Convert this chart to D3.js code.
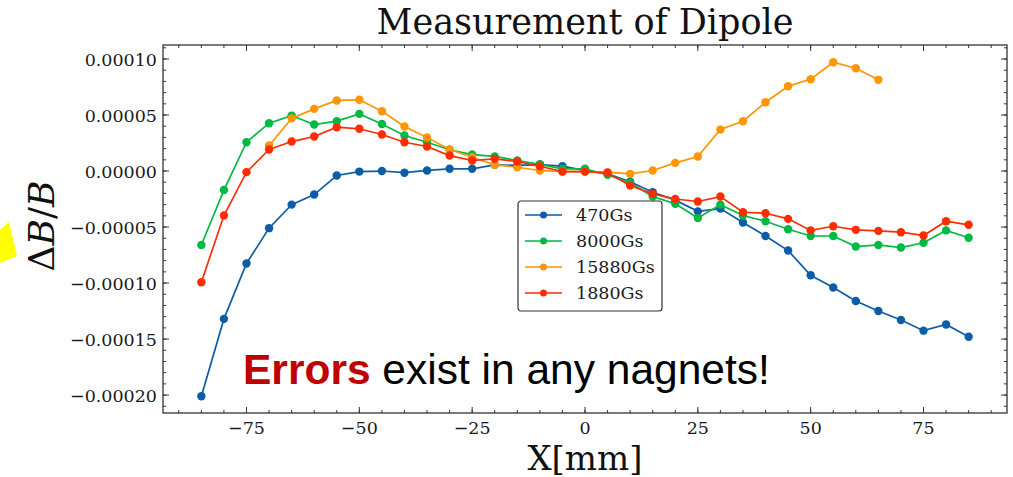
<!DOCTYPE html>
<html>
<head>
<meta charset="utf-8">
<script src="https://cdn.jsdelivr.net/npm/d3@7"></script>
<style>
  body { margin: 0; background: #fff; }
  svg { font-family: "DejaVu Serif", serif; }
</style>
</head>
<body>
<svg id="chart" width="1013" height="477"></svg>
<script>
var xs = [-85, -80, -75, -70, -65, -60, -55, -50, -45, -40, -35, -30, -25, -20, -15, -10, -5, 0,
          5, 10, 15, 20, 25, 30, 35, 40, 45, 50, 55, 60, 65, 70, 75, 80, 85];

// values in units of 1e-5
var blue470 = [-20.1, -13.2, -8.25, -5.1, -3.0, -2.1, -0.4, -0.05, 0.0, -0.15, 0.05, 0.2, 0.2, 0.55, 0.5,
               0.58, 0.43, 0.05, -0.25, -0.95, -1.9, -2.6, -3.6, -3.35, -4.6, -5.8, -7.1, -9.3, -10.4,
               -11.6, -12.5, -13.3, -14.25, -13.7, -14.8];
var green8000 = [-6.6, -1.7, 2.57, 4.27, 4.95, 4.15, 4.45, 5.1, 4.2, 3.17, 2.57, 1.9, 1.47, 1.3, 0.94,
                 0.6, 0.2, 0.2, -0.34, -1.05, -2.28, -2.93, -4.2, -3.0, -3.97, -4.48, -5.2, -5.8, -5.8,
                 -6.74, -6.6, -6.83, -6.4, -5.3, -5.96];
var orangeX = xs.slice(3, 31);
var orange15880 = [2.28, 4.7, 5.55, 6.3, 6.36, 5.34, 3.97, 3.0, 1.92, 1.23, 0.55, 0.34, 0.05, -0.05,
                   -0.05, -0.1, -0.25, 0.05, 0.73, 1.3, 3.7, 4.45, 6.14, 7.57, 8.2, 9.71, 9.18, 8.14];
var red1880 = [-9.93, -3.97, -0.1, 1.92, 2.63, 3.08, 3.91, 3.77, 3.26, 2.57, 2.19, 1.38, 0.94, 1.09, 0.85,
               0.43, -0.05, -0.05, -0.16, -1.3, -2.04, -2.5, -2.72, -2.28, -3.68, -3.77, -4.27, -5.3,
               -4.93, -5.25, -5.34, -5.46, -5.76, -4.48, -4.8];

var seriesNames = ['470Gs', '8000Gs', '15880Gs', '1880Gs'];
var seriesColors = ['#0C5DA5', '#00B945', '#FF9500', '#FF2C00'];

var yTicks = [-0.0002, -0.00015, -0.0001, -0.00005, 0, 0.00005, 0.0001];
var xTicks = [-75, -50, -25, 0, 25, 50, 75];

var svg = d3.select('#chart'),
    plotLeft = 163, plotRight = 1007, plotTop = 45, plotBottom = 413;

var x = d3.scaleLinear().domain([-93.5, 93.5]).range([plotLeft, plotRight]),
    y = d3.scaleLinear().domain([-0.000216, 0.0001125]).range([plotBottom, plotTop]);

var toPoints = function(xv, yv) {
  return yv.map(function(v, i) { return { x: xv[i], y: v * 1e-5 }; });
};

var series = [
  toPoints(xs, blue470),
  toPoints(xs, green8000),
  toPoints(orangeX, orange15880),
  toPoints(xs, red1880)
];

var minus = function(s) { return s.replace('-', '\u2212'); };

// yellow scrap of a shape at the left edge of the slide
svg.append('polygon')
  .attr('points', '0,230 9,222 17,256 0,263')
  .attr('fill', '#FFFF00');

// axes, ticks inside on all four sides
var axisColor = '#333';

var xMinor = d3.range(-90, 91, 5),
    yMinor = d3.range(-21, 12, 1).map(function(v) { return v * 1e-5; });

var gx = svg.append('g');
var vTicks = function(data, y0, len) {
  gx.selectAll(null).data(data).enter().append('line')
    .attr('x1', function(d) { return x(d); }).attr('x2', function(d) { return x(d); })
    .attr('y1', y0).attr('y2', y0 + len);
};
var hTicks = function(data, x0, len) {
  gx.selectAll(null).data(data).enter().append('line')
    .attr('y1', function(d) { return y(d); }).attr('y2', function(d) { return y(d); })
    .attr('x1', x0).attr('x2', x0 + len);
};
vTicks(xTicks, plotBottom, -6);
vTicks(xTicks, plotTop, 6);
vTicks(xMinor, plotBottom, -3);
vTicks(xMinor, plotTop, 3);
hTicks(yTicks, plotLeft, 6);
hTicks(yTicks, plotRight, -6);
hTicks(yMinor, plotLeft, 3);
hTicks(yMinor, plotRight, -3);
gx.selectAll('line').attr('stroke', axisColor).attr('stroke-width', 1);

svg.append('rect')
  .attr('x', plotLeft).attr('y', plotTop)
  .attr('width', plotRight - plotLeft).attr('height', plotBottom - plotTop)
  .attr('fill', 'none').attr('stroke', axisColor).attr('stroke-width', 1.3);

// tick labels
svg.append('g').selectAll('text').data(xTicks).enter().append('text')
  .attr('x', function(d) { return x(d); })
  .attr('y', 434)
  .attr('text-anchor', 'middle')
  .attr('font-size', 17.5)
  .attr('fill', '#1a1a1a')
  .text(function(d) { return minus(String(d)); });

var yFmt = d3.format('.5f');
svg.append('g').selectAll('text').data(yTicks).enter().append('text')
  .attr('x', 157)
  .attr('y', function(d) { return y(d) + 6.5; })
  .attr('text-anchor', 'end')
  .attr('font-size', 17.5)
  .attr('fill', '#1a1a1a')
  .text(function(d) { return minus(yFmt(d)); });

// lines and markers
var line = d3.line()
  .x(function(d) { return x(d.x); })
  .y(function(d) { return y(d.y); });

series.forEach(function(pts, i) {
  var g = svg.append('g');
  g.append('path')
    .datum(pts)
    .attr('d', line)
    .attr('fill', 'none')
    .attr('stroke', seriesColors[i])
    .attr('stroke-width', 1.7);
  g.selectAll('circle').data(pts).enter().append('circle')
    .attr('cx', function(d) { return x(d.x); })
    .attr('cy', function(d) { return y(d.y); })
    .attr('r', 4.2)
    .attr('fill', seriesColors[i]);
});

// legend
var legend = svg.append('g').attr('transform', 'translate(518,201)');
legend.append('rect')
  .attr('width', 144).attr('height', 110)
  .attr('rx', 3)
  .attr('fill', '#fff')
  .attr('stroke', axisColor).attr('stroke-width', 1.2);

var entries = legend.selectAll('.entry').data(seriesNames).enter().append('g')
  .attr('transform', function(d, i) { return 'translate(0,' + (14 + i * 26) + ')'; });
entries.append('line')
  .attr('x1', 7).attr('x2', 44).attr('y1', 0).attr('y2', 0)
  .attr('stroke', function(d, i) { return seriesColors[i]; })
  .attr('stroke-width', 1.7);
entries.append('circle')
  .attr('cx', 25.5).attr('cy', 0).attr('r', 3.5)
  .attr('fill', function(d, i) { return seriesColors[i]; });
entries.append('text')
  .attr('x', 58).attr('y', 6)
  .attr('font-size', 17.5)
  .attr('fill', '#1a1a1a')
  .text(function(d) { return d; });

// title and axis labels
svg.append('text')
  .attr('x', 585).attr('y', 34)
  .attr('text-anchor', 'middle')
  .attr('font-size', 35)
  .attr('fill', '#111')
  .text('Measurement of Dipole');

svg.append('text')
  .attr('x', 585).attr('y', 470)
  .attr('text-anchor', 'middle')
  .attr('font-size', 34)
  .attr('fill', '#111')
  .text('X[mm]');

var yl = svg.append('text')
  .attr('transform', 'translate(54,226) rotate(-90)')
  .attr('text-anchor', 'middle')
  .attr('font-size', 36)
  .attr('fill', '#111');
yl.append('tspan').text('\u0394');
yl.append('tspan').attr('font-style', 'italic').text('B');
yl.append('tspan').text('/');
yl.append('tspan').attr('font-style', 'italic').text('B');

// annotation
var note = svg.append('text')
  .attr('x', 243).attr('y', 384)
  .style('font-family', '"Liberation Sans", Arial, sans-serif')
  .attr('font-size', 42.5)
  .attr('fill', '#000');
note.append('tspan')
  .attr('font-weight', 'bold')
  .attr('fill', '#C00000')
  .text('Errors');
note.append('tspan').text(' exist in any nagnets!');
</script>
</body>
</html>
